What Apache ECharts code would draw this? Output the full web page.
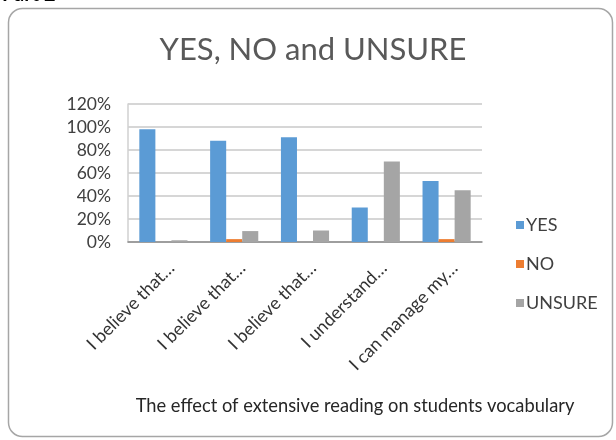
<!DOCTYPE html>
<html>
<head>
<meta charset="utf-8">
<script src="https://cdn.jsdelivr.net/npm/echarts@6/dist/echarts.min.js"></script>
<style>html,body{margin:0;padding:0;background:#fff}#c{width:616px;height:440px}</style>
</head>
<body>
<div id="c"></div>
<script>
const categories = ["I believe that…", "I believe that…", "I believe that…", "I understand…", "I can manage my…"];
const seriesNames = ["YES", "NO", "UNSURE"];
const yesValues = [98, 88, 91, 30, 53];
const noValues = [0, 2.5, 0, 0, 2.5];
const unsureValues = [1.5, 9.5, 10, 70, 45];
const yTicks = [0, 20, 40, 60, 80, 100, 120];
const titleText = 'YES, NO and UNSURE';
const captionText = 'The effect of extensive reading on students vocabulary';

const FONT = "Lato, 'Liberation Sans', sans-serif";
const chart = echarts.init(document.getElementById('c'), null, {renderer: 'canvas'});
chart.setOption({
  animation: false,
  backgroundColor: '#fff',
  graphic: [
    {type: 'rect', shape: {x: 8.5, y: 8.5, width: 604, height: 428, r: 14}, style: {fill: 'none', stroke: '#a6a6a6', lineWidth: 1.5}, z: -1},
    {type: 'text', left: 2, top: -15, style: {text: 'Part 2', font: 'bold 20px ' + FONT, fill: '#000'}},
    {type: 'text', x: 313, y: 50, style: {text: titleText, font: '31px ' + FONT, fill: '#595959', textAlign: 'center', textVerticalAlign: 'middle'}},
    {type: 'text', x: 355, y: 406, style: {text: captionText, font: '18.3px ' + FONT, fill: '#262626', textAlign: 'center', textVerticalAlign: 'middle'}}
  ],
  legend: {
    orient: 'vertical', left: 511, top: 211, itemWidth: 8, itemHeight: 8, itemGap: 21, icon: 'rect',
    textStyle: {fontFamily: FONT, fontSize: 18, color: '#404040', padding: [0, 0, 0, -3]},
    data: seriesNames
  },
  grid: {left: 128, right: 134, top: 104, bottom: 198, containLabel: false},
  xAxis: {
    type: 'category', data: categories,
    axisLine: {lineStyle: {color: '#8c8c8c', width: 1.5}},
    axisTick: {show: false},
    axisLabel: {rotate: 45, interval: 0, margin: 15, verticalAlign: 'top', lineHeight: 23, fontFamily: FONT, fontSize: 18, color: '#333333'}
  },
  yAxis: {
    type: 'value', min: yTicks[0], max: yTicks[yTicks.length - 1], interval: 20,
    axisLine: {show: true, lineStyle: {color: '#d0d0d0', width: 1.5}},
    axisTick: {show: false},
    splitLine: {lineStyle: {color: '#c8c8c8', width: 1.5}},
    axisLabel: {formatter: '{value}%', fontFamily: FONT, fontSize: 17.5, color: '#404040', margin: 17}
  },
  series: [
    {name: seriesNames[0], type: 'bar', data: yesValues, itemStyle: {color: '#5B9BD5'}, barGap: '0%', barCategoryGap: '32%'},
    {name: seriesNames[1], type: 'bar', data: noValues, itemStyle: {color: '#ED7D31'}, barGap: '0%', barCategoryGap: '32%'},
    {name: seriesNames[2], type: 'bar', data: unsureValues, itemStyle: {color: '#A5A5A5'}, barGap: '0%', barCategoryGap: '32%'}
  ]
});
</script>
</body>
</html>
